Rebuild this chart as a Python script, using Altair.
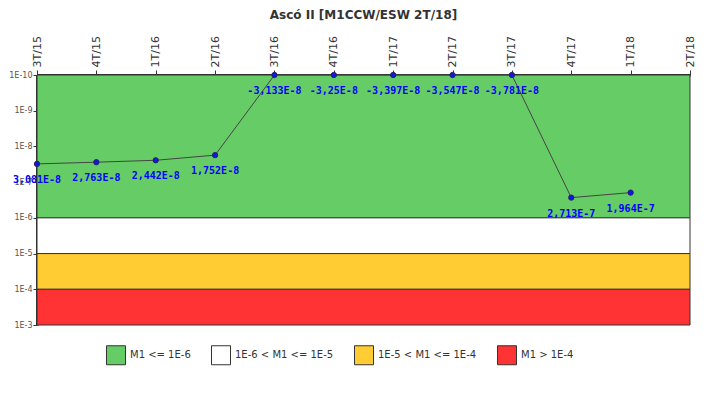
import altair as alt
import pandas as pd

# --- data ---
periods = ["3T/15", "4T/15", "1T/16", "2T/16", "3T/16", "4T/16",
           "1T/17", "2T/17", "3T/17", "4T/17", "1T/18", "2T/18"]
values = [3.081e-8, 2.763e-8, 2.442e-8, 1.752e-8, -3.133e-8, -3.25e-8,
          -3.397e-8, -3.547e-8, -3.781e-8, 2.713e-7, 1.964e-7]
value_labels = ["3,081E-8", "2,763E-8", "2,442E-8", "1,752E-8", "-3,133E-8", "-3,25E-8",
                "-3,397E-8", "-3,547E-8", "-3,781E-8", "2,713E-7", "1,964E-7"]

band_names = ["M1 <= 1E-6", "1E-6 < M1 <= 1E-5", "1E-5 < M1 <= 1E-4", "M1 > 1E-4"]
band_lo = [1e-10, 1e-6, 1e-5, 1e-4]
band_hi = [1e-6, 1e-5, 1e-4, 1e-3]
band_colors = ["#66CC66", "#FFFFFF", "#FFCC33", "#FF3333"]
y_ticks = [1e-10, 1e-9, 1e-8, 1e-7, 1e-6, 1e-5, 1e-4, 1e-3]

Y_MIN, Y_MAX = 1e-10, 1e-3

pts = pd.DataFrame({
    "period": periods[:len(values)],
    "value": values,
    "plot": [max(v, Y_MIN) for v in values],  # non-positive values drawn at the top edge
    "label": value_labels,
})
bands = pd.DataFrame({"band": band_names, "lo": band_lo, "hi": band_hi})

W, H = 653, 250

yscale = alt.Scale(type="log", domain=[Y_MIN, Y_MAX], reverse=True, nice=False)
xscale = alt.Scale(type="point", domain=periods, padding=0)

rects = alt.Chart(bands).mark_rect(stroke="#333333", strokeWidth=1, opacity=1).encode(
    x=alt.value(0), x2=alt.value(W),
    y=alt.Y("lo:Q", scale=yscale,
            axis=alt.Axis(values=y_ticks, title=None,
                          labelExpr="'1E' + round(log(datum.value)/LN10)",
                          labelFont="DejaVu Sans", labelFontSize=8, labelColor="#555555",
                          domainColor="#333333", domainWidth=3, tickColor="#333333",
                          tickSize=4, labelPadding=1, grid=False)),
    y2="hi:Q",
    color=alt.Color("band:N",
                    scale=alt.Scale(domain=band_names, range=band_colors),
                    legend=alt.Legend(title=None, orient="none", legendX=69, legendY=270,
                                      direction="horizontal", columns=4,
                                      symbolType="square", symbolSize=361,
                                      symbolStrokeColor="#333333", symbolStrokeWidth=1,
                                      symbolOpacity=1, labelFont="DejaVu Sans",
                                      labelFontSize=10, labelColor="#333333",
                                      labelOffset=4, columnPadding=18)),
)

xenc = alt.X("period:O", scale=xscale, sort=periods,
             axis=alt.Axis(orient="top", title=None, labelAngle=270,
                           labelFont="DejaVu Sans", labelFontSize=11, labelColor="#333333",
                           domainColor="#333333", domainWidth=3, tickColor="#333333",
                           tickSize=5, labelPadding=3, grid=False))
yenc = alt.Y("plot:Q", scale=yscale)

line = alt.Chart(pts).mark_line(color="#444444", strokeWidth=1).encode(x=xenc, y=yenc)
dots = alt.Chart(pts).mark_circle(size=28, color="#1515DD", stroke="#222266",
                                  strokeWidth=1, opacity=1).encode(x=xenc, y=yenc)
texts = alt.Chart(pts).mark_text(font="DejaVu Sans Mono", fontSize=10, fontWeight="bold",
                                 color="#0000FF", dy=16, baseline="middle",
                                 align="center").encode(x=xenc, y=yenc, text="label:N")

chart = alt.layer(rects, line, dots, texts).properties(
    width=W, height=H,
    title=alt.Title("Ascó II [M1CCW/ESW 2T/18]", font="DejaVu Sans", fontSize=12,
                    fontWeight="bold", color="#333333", anchor="middle", offset=14),
    autosize=alt.AutoSizeParams(type="none"),
    padding={"left": 29, "top": 67, "right": 10, "bottom": 60},
).configure_view(stroke=None)

chart.save("out.html", embed_options={"renderer": "svg", "actions": False})
